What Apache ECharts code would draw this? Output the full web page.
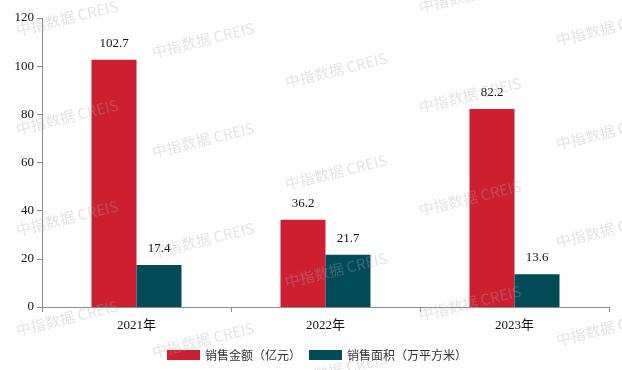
<!DOCTYPE html>
<html>
<head>
<meta charset="utf-8">
<script src="https://cdn.jsdelivr.net/npm/echarts@6/dist/echarts.min.js"></script>
<style>html,body{margin:0;padding:0;background:#fff}#c{width:622px;height:370px}</style>
</head>
<body>
<div id="c"></div>
<script>
var categories = ['2021年', '2022年', '2023年'];
var salesAmount = [102.7, 36.2, 82.2];
var salesArea = [17.4, 21.7, 13.6];
var seriesNames = ['销售金额（亿元）', '销售面积（万平方米）'];
var yTicks = [0, 20, 40, 60, 80, 100, 120];

var wmFull = '中指数据 CREIS';
var wmSpots = [
  [67,18],[67,117],[67,218],[67,318],
  [203,40],[203,140],[203,240],[203,340],
  [336,70],[336,172],[336,270],[336,370],
  [470,-5],[470,95],[470,198],[470,303],
  [607,28],[607,132],[607,230],[607,328]
];
var graphics = wmSpots.map(function(p){
  return {
    type: 'text', x: p[0], y: p[1], rotation: 0.24, z: 100, silent: true,
    style: {
      text: wmFull, textAlign: 'center', textVerticalAlign: 'middle',
      font: 'normal 15px "Noto Sans CJK SC", "Noto Sans", sans-serif',
      fill: 'rgba(170,170,170,0.33)'
    }
  };
});

var serif = '"Liberation Serif", "Times New Roman", "Noto Sans CJK SC", serif';
var chart = echarts.init(document.getElementById('c'), null, {renderer: 'canvas'});
chart.setOption({
  animation: false,
  backgroundColor: '#fff',
  graphic: graphics,
  grid: {left: 42, right: 13, top: 18, bottom: 63, containLabel: false},
  legend: {
    bottom: 9, left: 167, padding: 0, itemWidth: 33, itemHeight: 10, itemGap: 8,
    icon: 'rect',
    textStyle: {fontFamily: '"Noto Sans CJK SC", sans-serif', fontSize: 12, color: '#333'},
    data: seriesNames
  },
  xAxis: {
    type: 'category', data: categories,
    axisLine: {lineStyle: {color: '#8c8c8c', width: 1}},
    axisTick: {show: true, length: 5, alignWithLabel: false, lineStyle: {color: '#8c8c8c'}},
    axisLabel: {color: '#111', fontFamily: serif, fontSize: 13, margin: 12}
  },
  yAxis: {
    type: 'value', min: yTicks[0], max: yTicks[yTicks.length-1], interval: 20,
    splitLine: {show: false},
    axisLine: {show: true, lineStyle: {color: '#8c8c8c', width: 1}},
    axisTick: {show: true, length: 5, lineStyle: {color: '#8c8c8c'}},
    axisLabel: {color: '#111', fontFamily: serif, fontSize: 13, margin: 8}
  },
  series: [
    {
      name: seriesNames[0], type: 'bar', data: salesAmount, barWidth: 45, barGap: '0%',
      itemStyle: {color: '#CE1F31'},
      label: {show: true, position: 'top', distance: 10, color: '#111', fontFamily: serif, fontSize: 13}
    },
    {
      name: seriesNames[1], type: 'bar', data: salesArea, barWidth: 45, barGap: '0%',
      itemStyle: {color: '#014B58'},
      label: {show: true, position: 'top', distance: 10, color: '#111', fontFamily: serif, fontSize: 13}
    }
  ]
});
</script>
</body>
</html>
